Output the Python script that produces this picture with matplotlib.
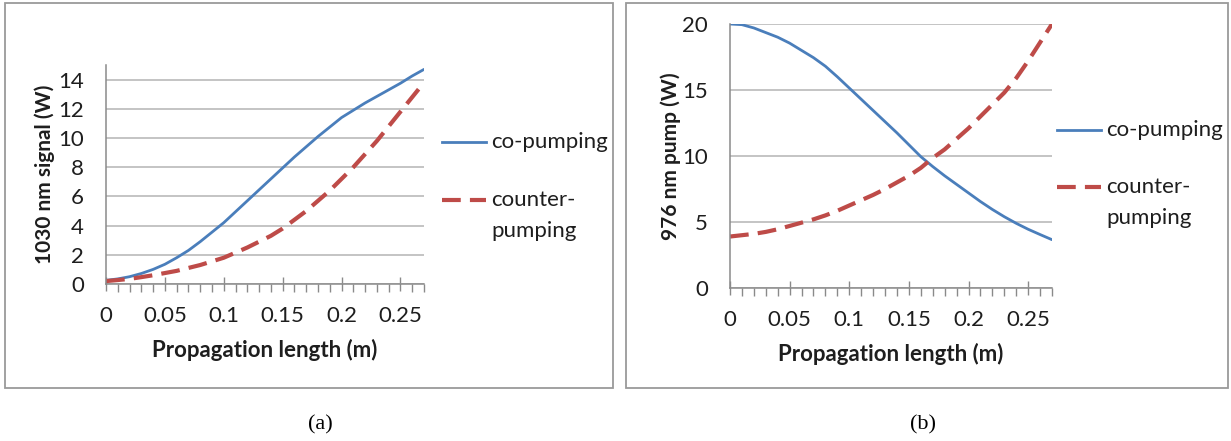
import matplotlib
matplotlib.use("Agg")
import matplotlib.pyplot as plt
from matplotlib.lines import Line2D
from matplotlib.patches import Rectangle
from matplotlib.ticker import MultipleLocator

# propagation positions along the fibre (m)
z = [0.00, 0.01, 0.02, 0.03, 0.04, 0.05, 0.06, 0.07, 0.08, 0.09,
     0.10, 0.11, 0.12, 0.13, 0.14, 0.15, 0.16, 0.17, 0.18, 0.19,
     0.20, 0.21, 0.22, 0.23, 0.24, 0.25, 0.26, 0.27]

# 1030 nm signal power (W)
signal_co = [0.25, 0.35, 0.5, 0.72, 1.0, 1.35, 1.8, 2.3, 2.9, 3.55,
             4.2, 4.95, 5.7, 6.45, 7.2, 7.95, 8.7, 9.4, 10.1, 10.75,
             11.4, 11.9, 12.4, 12.85, 13.3, 13.75, 14.25, 14.7]
signal_counter = [0.2, 0.27, 0.35, 0.47, 0.6, 0.75, 0.9, 1.1, 1.3, 1.55,
                  1.8, 2.15, 2.5, 2.9, 3.3, 3.8, 4.4, 5.0, 5.7, 6.4,
                  7.2, 8.0, 8.9, 9.8, 10.8, 11.8, 12.8, 13.8]

# 976 nm pump power (W)
pump_co = [20.0, 19.95, 19.7, 19.35, 19.0, 18.55, 18.0, 17.45, 16.8, 16.0,
           15.15, 14.3, 13.45, 12.6, 11.75, 10.85, 9.95, 9.2, 8.5, 7.85,
           7.2, 6.55, 5.95, 5.4, 4.9, 4.45, 4.05, 3.66]
pump_counter = [3.9, 4.0, 4.1, 4.25, 4.45, 4.7, 4.95, 5.2, 5.5, 5.85,
                6.25, 6.65, 7.05, 7.5, 8.0, 8.5, 9.1, 9.85, 10.5, 11.3,
                12.1, 13.0, 13.9, 14.8, 15.9, 17.2, 18.6, 20.0]

series_names = ["co-pumping", "counter-\npumping"]
panel_tags = ["(a)", "(b)"]

W, H = 1231, 441
BLUE = "#4a7ebb"
RED = "#be4b48"
GRID = "#b4b4b4"
AXIS = "#8a8a8a"
TEXT = "#1e1e1e"
FS = 16

plt.rcParams["font.family"] = ["Lato", "DejaVu Sans"]

fig = plt.figure(figsize=(W / 100, H / 100), dpi=100)


def px_axes(x0, x1, ytop, ybot):
    # axes box given in pixel coordinates (origin top-left)
    return fig.add_axes([x0 / W, 1 - ybot / H, (x1 - x0) / W, (ybot - ytop) / H])


def style_axes(ax, ymax, ystep):
    ax.set_xlim(0, 0.27)
    ax.set_ylim(0, ymax)
    ax.xaxis.set_major_locator(MultipleLocator(0.05))
    ax.xaxis.set_minor_locator(MultipleLocator(0.01))
    ax.yaxis.set_major_locator(MultipleLocator(ystep))
    ax.xaxis.set_major_formatter(lambda v, p: f"{v:g}")
    ax.grid(axis="y", color=GRID, linewidth=1.1)
    ax.set_axisbelow(True)
    for s in ("top", "right"):
        ax.spines[s].set_visible(False)
    for s in ("left", "bottom"):
        ax.spines[s].set_color(AXIS)
        ax.spines[s].set_linewidth(1.1)
    ax.tick_params(axis="y", length=0, pad=16, labelsize=FS, colors=TEXT)
    ax.tick_params(axis="x", which="major", direction="inout", length=10, width=1,
                   color=AXIS, pad=11, labelsize=FS, labelcolor=TEXT)
    ax.tick_params(axis="x", which="minor", direction="out", length=6, width=1, color=AXIS)
    ax.set_xlabel("Propagation length (m)", fontsize=FS, fontweight="bold",
                  labelpad=9, color=TEXT)


def draw_legend(x, length, ys):
    # legend handles sit level with the first line of each entry
    y_co, y_counter, y_pump = ys
    fig.add_artist(Line2D([x / W, (x + length) / W], [1 - y_co / H] * 2, color=BLUE, lw=2.0))
    fig.add_artist(Line2D([x / W, (x + length) / W], [1 - y_counter / H] * 2, color=RED, lw=3.0,
                          dashes=(4.5, 2.2)))
    tx = (x + length + 5) / W
    top, bottom = series_names[1].split("\n")
    fig.text(tx, 1 - y_co / H, series_names[0], fontsize=FS, va="center", color=TEXT)
    fig.text(tx, 1 - y_counter / H, top, fontsize=FS, va="center", color=TEXT)
    fig.text(tx, 1 - y_pump / H, bottom, fontsize=FS, va="center", color=TEXT)


# (a) signal
ax1 = px_axes(106, 424, 65, 284)
style_axes(ax1, 15, 2)
ax1.plot(z, signal_co, color=BLUE, lw=2.0, solid_capstyle="round")
ax1.plot(z, signal_counter, color=RED, lw=3.0, dashes=(4.5, 2.2))
ax1.set_ylabel("1030 nm signal (W)", fontsize=15, fontweight="bold", labelpad=2, color=TEXT)
draw_legend(442, 44, (142, 200, 231))

# (b) pump
ax2 = px_axes(730, 1052, 24, 288)
style_axes(ax2, 20, 5)
ax2.plot(z, pump_co, color=BLUE, lw=2.0, solid_capstyle="round")
ax2.plot(z, pump_counter, color=RED, lw=3.0, dashes=(4.5, 2.2))
ax2.set_ylabel("976 nm pump (W)", fontsize=15, fontweight="bold", labelpad=1, color=TEXT)
draw_legend(1057, 44, (130, 187, 218))

# panel frames and captions
for (x0, x1), tag, cx in zip([(5, 613), (626, 1228)], panel_tags, [320, 923]):
    fig.add_artist(Rectangle((x0 / W, 1 - 388 / H), (x1 - x0) / W, (388 - 3) / H,
                             fill=False, edgecolor="#9a9a9a", linewidth=1.3))
    fig.text(cx / W, 1 - 425 / H, tag, fontsize=16, family="Liberation Serif",
             ha="center", va="center")

fig.savefig("out.png", dpi=100)
